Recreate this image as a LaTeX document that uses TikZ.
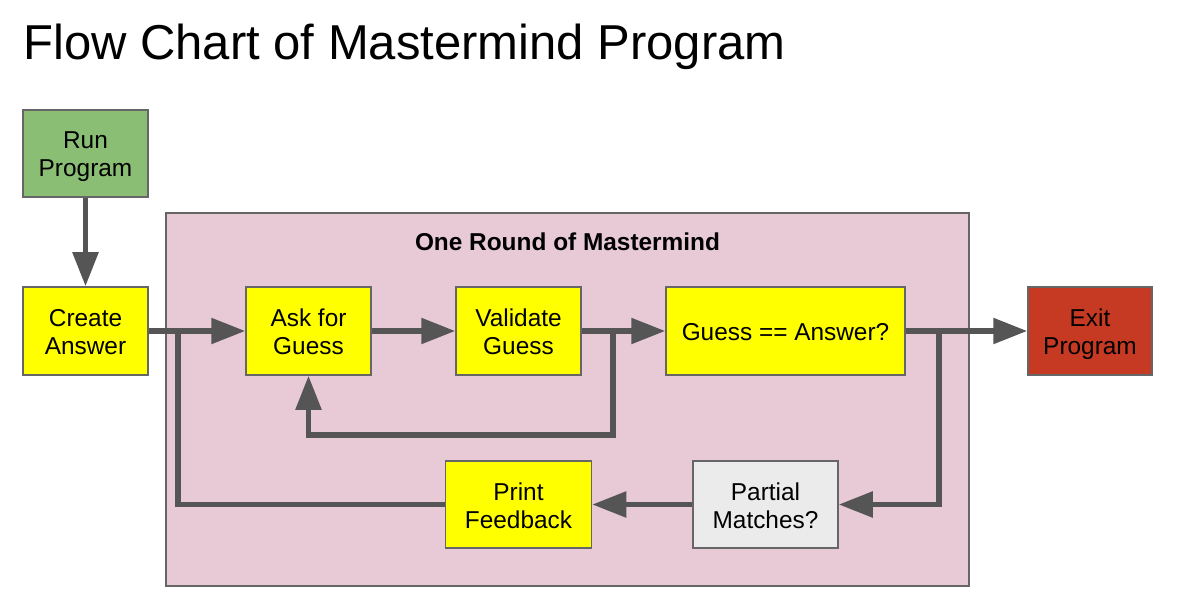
\documentclass[tikz,border=0pt]{standalone}
\usepackage{fontspec}
\setmainfont{Liberation Sans}
\usetikzlibrary{arrows.meta}
\definecolor{gGreen}{HTML}{89BE74}
\definecolor{gRed}{HTML}{C63A24}
\definecolor{gPink}{HTML}{E8CAD6}
\definecolor{gGray}{HTML}{EBEBEB}
\definecolor{gYellow}{HTML}{FFFF00}
\definecolor{gLine}{HTML}{555555}
\definecolor{gBorder}{HTML}{666666}
\newcommand\lstrut{\rule[-4.4pt]{0pt}{28pt}}
\tikzset{
  box/.style={draw=gBorder, line width=1.5pt, rectangle, inner sep=0pt, align=center,
    font=\fontsize{24.4}{28}\selectfont, text=black},
  yellowbox/.style={box, fill=gYellow},
  arr/.style={draw=gLine, line width=5.5pt, -{Triangle[length=34pt,width=25pt]}},
  plainline/.style={draw=gLine, line width=5.5pt},
}
\begin{document}
\begin{tikzpicture}[x=1pt,y=-1pt]
\useasboundingbox (0,0) rectangle (1182,609);
\node[anchor=base west, inner sep=0pt, font=\fontsize{49}{56}\selectfont] (title) at (23,60) {Flow Chart of Mastermind Program};
\node[draw=gBorder, line width=1.5pt, fill=gPink, minimum width=803pt, minimum height=373pt, inner sep=0pt] (round) at (567.5,399.5) {};
\node[font=\fontsize{24.4}{28}\selectfont\bfseries, inner sep=0pt] (roundlabel) at (567.5,241) {One Round of Mastermind\lstrut};
\node[box, fill=gGreen, minimum width=125pt, minimum height=87pt] (run) at (85.5,153.5) {Run\lstrut\\Program\lstrut};
\node[yellowbox, minimum width=125pt, minimum height=88pt] (create) at (85.5,331) {Create\lstrut\\Answer\lstrut};
\node[yellowbox, minimum width=125pt, minimum height=88pt] (ask) at (308.5,331) {Ask for\lstrut\\Guess\lstrut};
\node[yellowbox, minimum width=125pt, minimum height=88pt] (validate) at (518.5,331) {Validate\lstrut\\Guess\lstrut};
\node[yellowbox, minimum width=239pt, minimum height=88pt] (guess) at (785.5,331) {Guess == Answer?\lstrut};
\node[box, fill=gRed, minimum width=124pt, minimum height=88pt] (exit) at (1090,331) {Exit\lstrut\\Program\lstrut};
\node[box, fill=gGray, minimum width=145pt, minimum height=87pt] (partial) at (765.5,504.5) {Partial\lstrut\\Matches?\lstrut};
\node[yellowbox, minimum width=146pt, minimum height=87pt] (print) at (518.5,504.5) {Print\lstrut\\Feedback\lstrut};
\coordinate (j1) at (178,331);
\coordinate (j2) at (613,331);
\coordinate (j3) at (939,331);
\coordinate (lp) at (613,435);
\draw[arr] (run.south) -- (create.north);
\draw[arr] (create.east) -- (ask.west);
\draw[plainline] (print.west) -| (j1);
\draw[arr] (ask.east) -- (validate.west);
\draw[arr] (validate.east) -- (guess.west);
\draw[arr] (j2) -- (lp) -| (ask.south);
\draw[arr] (guess.east) -- (exit.west);
\draw[arr] (j3) |- (partial.east);
\draw[arr] (partial.west) -- (print.east);
\end{tikzpicture}
\end{document}
